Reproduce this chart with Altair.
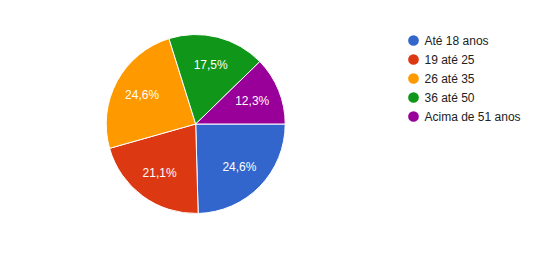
import math
import altair as alt
import pandas as pd

categories = ["Até 18 anos", "19 até 25", "26 até 35", "36 até 50", "Acima de 51 anos"]
counts = [14, 12, 14, 10, 7]
labels = ["24,6%", "21,1%", "24,6%", "17,5%", "12,3%"]
colors = ["#3366CC", "#DC3912", "#FF9900", "#109618", "#990099"]

df = pd.DataFrame({"cat": categories, "n": counts, "label": labels, "order": list(range(len(categories)))})

theta = alt.Theta("n:Q", stack=True, scale=alt.Scale(range=[math.pi / 2, math.pi / 2 + 2 * math.pi]))
order = alt.Order("order:Q", sort="ascending")

base = alt.Chart(df)

pie = base.mark_arc(stroke="white", strokeWidth=1).encode(
    theta=theta,
    order=order,
    x=alt.value(195.7),
    y=alt.value(124),
    radius=alt.value(89.5),
    color=alt.Color(
        "cat:N",
        scale=alt.Scale(domain=categories, range=colors),
        sort=categories,
        legend=alt.Legend(
            title=None,
            orient="none",
            legendX=407.5,
            legendY=34.5,
            symbolType="circle",
            symbolSize=115,
            symbolStrokeWidth=0,
            labelFont="Liberation Sans",
            labelFontSize=12,
            labelColor="#222222",
            labelOffset=5,
            rowPadding=7,
            padding=0,
        ),
    ),
)

text = base.mark_text(font="Liberation Sans", fontSize=12, color="white").encode(
    theta=theta,
    order=order,
    x=alt.value(195.7),
    y=alt.value(124),
    radius=alt.value(61),
    text="label:N",
)

chart = (pie + text).properties(
    width=558, height=256, autosize=alt.AutoSizeParams(type="none"), padding=0
).configure_view(stroke=None)

chart.save("out.html", embed_options={"renderer": "svg", "actions": False})
